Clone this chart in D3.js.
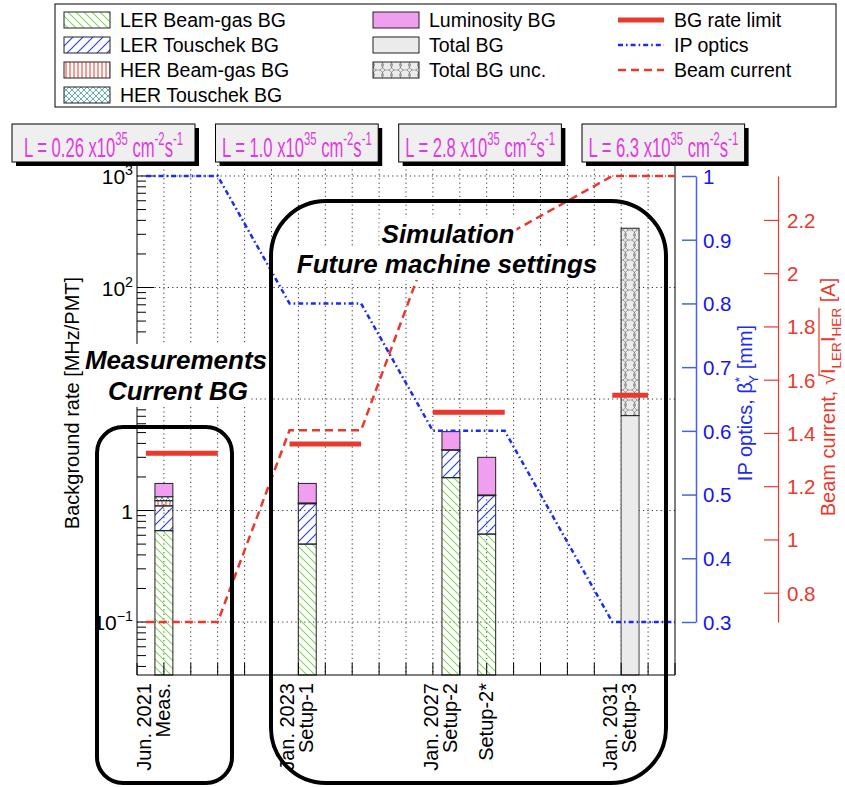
<!DOCTYPE html>
<html>
<head>
<meta charset="utf-8">
<script src="https://cdn.jsdelivr.net/npm/d3@7/dist/d3.min.js"></script>
<style>
html,body{margin:0;padding:0;background:#fff;}
svg{display:block;}
text{font-family:"Liberation Sans",Arial,Helvetica,sans-serif;}
</style>
</head>
<body>
<svg id="chart" width="845" height="787"></svg>
<script>
// ================= DATA =================
const categories   = ["Meas.", "Setup-1", "Setup-2", "Setup-2*", "Setup-3"];
const dates        = ["Jun. 2021", "Jan. 2023", "Jan. 2027", "", "Jan. 2031"];
const barPos       = [1.0, 6.33, 11.67, 13.0, 18.33];          // bin-axis position of each bar
const lerBeamGas   = [0.66, 0.50, 1.97, 0.615, 0];
const lerTouschek  = [0.44, 0.65, 1.52, 0.745, 0];
const herBeamGas   = [0.125, 0.01, 0.01, 0.01, 0];
const herTouschek  = [0.105, 0.01, 0.01, 0.01, 0];
const luminosityBG = [0.42, 0.58, 1.59, 1.62, 0];
const totalBG      = [0, 0, 0, 0, 7.1];
const totalBGUnc   = [0, 0, 0, 0, 340];                         // upper edge of uncertainty band

const phaseStart   = [0.33, 5.67, 11.0, 17.67];
const phaseEnd     = [3.0, 8.33, 13.67, 20.0];
const bgRateLimit  = [3.26, 3.95, 7.6, 10.8];
const limitEnd     = [3.0, 8.33, 13.67, 19.0];
const ipOptics     = [1.0, 0.8, 0.6, 0.3];                      // beta*_y [mm]
const beamCurrent  = [0.69, 1.41, 2.14, 2.365];                 // sqrt(I_LER I_HER) [A]
const luminosity   = ["0.26", "1.0", "2.8", "6.3"];

const yMajorTicks  = [0.1, 1, 10, 100, 1000];
const yMajorBase   = ["10", "1", "", "10", "10"];               // the 10^1 label is hidden in the original
const yMajorExp    = ["\u22121", "", "", "2", "3"];
const ipTicks      = [0.3, 0.4, 0.5, 0.6, 0.7, 0.8, 0.9, 1.0];
const currentTicks = [0.8, 1.0, 1.2, 1.4, 1.6, 1.8, 2.0, 2.2];

const legendLabels = ["LER Beam-gas BG", "LER Touschek BG", "HER Beam-gas BG", "HER Touschek BG",
                      "Luminosity BG", "Total BG", "Total BG unc.",
                      "BG rate limit", "IP optics", "Beam current"];

// ================= STYLE / LAYOUT =================
const RED = "#e8392c", BLUE = "#1a2cf0", MAG = "#e03be0", PINK = "#f09ef0", GREY = "#ebebeb";
const svg = d3.select("#chart");
const F = {l: 137, r: 675, t: 165, b: 675};

const x = d3.scaleLinear().domain([0, 20]).range([F.l, F.r]);
const y = d3.scaleLog().domain([0.0335, 1255]).range([F.b, F.t]);
const yIP = d3.scaleLinear().domain([0.3, 1.0]).range([622, 176]);
const yCur = d3.scaleLinear().domain([0.69, 2.365]).range([622, 176]);

// ---------- patterns ----------
const defs = svg.append("defs");
function pattern(id, w, h, build) {
  const p = defs.append("pattern").attr("id", id).attr("patternUnits", "userSpaceOnUse")
    .attr("width", w).attr("height", h);
  build(p);
}
pattern("p-lerbg", 8, 8, p => p.append("path").attr("d", "M0,0L8,8M-2,6L2,10M6,-2L10,2")
  .attr("stroke", "#7ed957").attr("stroke-width", 1.1).attr("fill", "none"));
pattern("p-lertous", 10, 10, p => p.append("path").attr("d", "M0,10L10,0M-2,2L2,-2M8,12L12,8")
  .attr("stroke", "#2b45e0").attr("stroke-width", 1.2).attr("fill", "none"));
pattern("p-herbg", 4, 4, p => p.append("path").attr("d", "M2,0V4")
  .attr("stroke", RED).attr("stroke-width", 1).attr("fill", "none"));
pattern("p-hertous", 6, 6, p => p.append("path").attr("d", "M0,0L6,6M6,0L0,6")
  .attr("stroke", "#3a9a9a").attr("stroke-width", 0.8).attr("fill", "none"));
pattern("p-unc", 9, 10, p => {
  p.append("rect").attr("width", 9).attr("height", 10).attr("fill", GREY);
  [[0, 5], [9, 5]].forEach(c =>
    p.append("circle").attr("cx", c[0]).attr("cy", c[1]).attr("r", 5.2)
      .attr("fill", "none").attr("stroke", "#666").attr("stroke-width", 0.6));
  p.append("path").attr("d", "M3,5H6").attr("stroke", "#666").attr("stroke-width", 0.6);
});
const compFill = ["url(#p-lerbg)", "url(#p-lertous)", "url(#p-herbg)", "url(#p-hertous)", PINK];

// rich text helper (sup / sub)
function rich(textSel, parts, size) {
  let shift = 0;
  parts.forEach(p => {
    const s = p.sup ? -0.42 * size : p.sub ? 0.28 * size : 0;
    const ts = textSel.append("tspan").text(p.t).attr("dy", s - shift);
    if (p.sup || p.sub) ts.attr("font-size", size * 0.68);
    if (p.dx) ts.attr("dx", p.dx);
    shift = s;
  });
  return textSel;
}

// ---------- grid ----------
const grid = svg.append("g").attr("stroke", "#333").attr("stroke-width", 1).attr("stroke-dasharray", "1.2,3.2");
grid.selectAll("line.v").data(d3.range(1, 20)).join("line")
  .attr("x1", d => x(d)).attr("x2", d => x(d)).attr("y1", F.t).attr("y2", F.b);
grid.selectAll("line.h").data(yMajorTicks).join("line")
  .attr("x1", F.l).attr("x2", F.r).attr("y1", d => y(d)).attr("y2", d => y(d));

// ---------- bars ----------
const bw = 1 / 3;
const barG = svg.append("g");
categories.forEach((c, i) => {
  const comps = [lerBeamGas[i], lerTouschek[i], herBeamGas[i], herTouschek[i], luminosityBG[i]];
  const x0 = x(barPos[i] - bw), x1 = x(barPos[i] + bw);
  let cum = 0;
  comps.forEach((v, k) => {
    if (!v) return;
    const lo = cum === 0 ? F.b : y(cum);
    cum += v;
    barG.append("rect").attr("x", x0).attr("width", x1 - x0)
      .attr("y", y(cum)).attr("height", lo - y(cum))
      .attr("fill", compFill[k]).attr("stroke", "#222").attr("stroke-width", 1);
  });
  if (totalBG[i]) {
    barG.append("rect").attr("x", x0).attr("width", x1 - x0)
      .attr("y", y(totalBG[i])).attr("height", F.b - y(totalBG[i]))
      .attr("fill", GREY).attr("stroke", "#444").attr("stroke-width", 1);
    barG.append("rect").attr("x", x0).attr("width", x1 - x0)
      .attr("y", y(totalBGUnc[i])).attr("height", y(totalBG[i]) - y(totalBGUnc[i]))
      .attr("fill", "url(#p-unc)").attr("stroke", "#222").attr("stroke-width", 1);
  }
});

// ---------- frame & left/bottom axes ----------
const ax = svg.append("g").attr("stroke", "#000").attr("stroke-width", 1);
ax.append("line").attr("x1", F.l).attr("x2", F.l).attr("y1", F.t).attr("y2", F.b);
ax.append("line").attr("x1", F.r).attr("x2", F.r).attr("y1", F.t).attr("y2", F.b);
ax.append("line").attr("x1", F.l).attr("x2", F.r).attr("y1", F.b).attr("y2", F.b);
ax.selectAll("line.bt").data(d3.range(0, 21)).join("line")
  .attr("x1", d => x(d)).attr("x2", d => x(d)).attr("y1", F.b).attr("y2", F.b - 12);
const minors = [];
for (let e = -2; e <= 3; e++) for (let k = 2; k <= 9; k++) {
  const v = k * Math.pow(10, e);
  if (v > y.domain()[0] && v < y.domain()[1]) minors.push(v);
}
ax.selectAll("line.mn").data(minors).join("line")
  .attr("x1", F.l).attr("x2", F.l + 9).attr("y1", d => y(d)).attr("y2", d => y(d));
ax.selectAll("line.mj").data(yMajorTicks).join("line")
  .attr("x1", F.l).attr("x2", F.l + 17).attr("y1", d => y(d)).attr("y2", d => y(d));

yMajorTicks.forEach((v, i) => {
  if (!yMajorBase[i]) return;
  const t = svg.append("text").attr("x", 133).attr("y", y(v) + 8).attr("text-anchor", "end")
    .attr("font-size", 21).attr("fill", "#000");
  const parts = [{t: yMajorBase[i]}];
  if (yMajorExp[i]) parts.push({t: yMajorExp[i], sup: true});
  rich(t, parts, 21);
});

// bottom category labels (rotated)
categories.forEach((c, i) => {
  const bx = x(barPos[i]) + 6;
  svg.append("text").attr("transform", `translate(${bx},683) rotate(-90)`)
    .attr("text-anchor", "end").attr("font-size", 20).text(c);
  if (dates[i]) svg.append("text").attr("transform", `translate(${bx - 19},683) rotate(-90)`)
    .attr("text-anchor", "end").attr("font-size", 20).text(dates[i]);
});

// ---------- right axes ----------
const ipAxis = svg.append("g").attr("transform", "translate(696,0)")
  .call(d3.axisLeft(yIP).tickValues(ipTicks).tickSize(14).tickSizeOuter(0).tickPadding(0)
    .tickFormat(d => String(+d.toFixed(1))));
ipAxis.select(".domain").attr("stroke", "#4466dd").attr("stroke-width", 1.5);
ipAxis.selectAll(".tick line").attr("stroke", "#4466dd").attr("stroke-width", 1.5);
ipAxis.selectAll(".tick text").attr("x", 7).attr("text-anchor", "start").attr("dy", "0.36em")
  .attr("font-size", 20.5).attr("fill", "#1515f0");
ipAxis.attr("font-family", null);

const curAxis = svg.append("g").attr("transform", "translate(778,0)")
  .call(d3.axisLeft(yCur).tickValues(currentTicks).tickSize(14).tickSizeOuter(0).tickPadding(0)
    .tickFormat(d => String(+d.toFixed(1))));
curAxis.select(".domain").attr("stroke", RED).attr("stroke-width", 1.2);
curAxis.selectAll(".tick line").attr("stroke", RED).attr("stroke-width", 1.2);
curAxis.selectAll(".tick text").attr("x", 9).attr("text-anchor", "start").attr("dy", "0.36em")
  .attr("font-size", 20.5).attr("fill", RED);
curAxis.attr("font-family", null);

// ---------- lines ----------
function stepPoints(vals) {
  const pts = [];
  vals.forEach((v, i) => { pts.push([phaseStart[i], v]); pts.push([phaseEnd[i], v]); });
  return pts;
}
svg.append("path").datum(stepPoints(ipOptics))
  .attr("d", d3.line().x(d => x(d[0])).y(d => yIP(d[1])))
  .attr("fill", "none").attr("stroke", BLUE).attr("stroke-width", 2.5)
  .attr("stroke-dasharray", "5,3,1.6,3");
svg.append("path").datum(stepPoints(beamCurrent))
  .attr("d", d3.line().x(d => x(d[0])).y(d => yCur(d[1])))
  .attr("fill", "none").attr("stroke", RED).attr("stroke-width", 2.5)
  .attr("stroke-dasharray", "8,5");
svg.append("g").selectAll("line").data(bgRateLimit).join("line")
  .attr("x1", (d, i) => x(phaseStart[i])).attr("x2", (d, i) => x(limitEnd[i]))
  .attr("y1", d => y(d)).attr("y2", d => y(d))
  .attr("stroke", RED).attr("stroke-width", 5);

// ---------- annotation texts with white boxes ----------
const notes = [
  {t: "Measurements", x: 176, y: 369},
  {t: "Current BG", x: 178, y: 400},
  {t: "Simulation", x: 448, y: 243},
  {t: "Future machine settings", x: 447, y: 273}
];
notes.forEach(n => {
  const g = svg.append("g");
  const r = g.append("rect").attr("fill", "#fff");
  const t = g.append("text").attr("x", n.x).attr("y", n.y).attr("text-anchor", "middle")
    .attr("font-size", 26).attr("font-weight", "bold").attr("font-style", "italic").text(n.t);
  const b = t.node().getBBox();
  r.attr("x", b.x - 2).attr("y", b.y - 1).attr("width", b.width + 4).attr("height", b.height + 2);
});

// ---------- rounded boxes ----------
svg.append("rect").attr("x", 97).attr("y", 427).attr("width", 135).attr("height", 356).attr("rx", 26)
  .attr("fill", "none").attr("stroke", "#000").attr("stroke-width", 4);
svg.append("rect").attr("x", 271).attr("y", 201).attr("width", 395).attr("height", 582).attr("rx", 55)
  .attr("fill", "none").attr("stroke", "#000").attr("stroke-width", 4);

// ---------- luminosity panels ----------
const lumBoxes = [[12, 195], [215.5, 378.2], [398.7, 561.4], [582, 744.6]];
let lumScale = null;
luminosity.forEach((L, i) => {
  const [bx0, bx1] = lumBoxes[i];
  svg.append("rect").attr("x", bx0 + 4).attr("y", 128).attr("width", bx1 - bx0).attr("height", 38).attr("fill", "#000");
  svg.append("rect").attr("x", bx0).attr("y", 124).attr("width", bx1 - bx0).attr("height", 38)
    .attr("fill", "#efefef").attr("stroke", "#000").attr("stroke-width", 1);
  const t = svg.append("text").attr("font-size", 28).attr("fill", MAG);
  rich(t, [{t: "L = " + L + " x10"}, {t: "35", sup: true}, {t: " cm"}, {t: "-2", sup: true},
           {t: "s"}, {t: "-1", sup: true}], 28);
  const w = t.node().getComputedTextLength();
  if (lumScale === null) lumScale = 159 / w;
  const cx = (bx0 + bx1) / 2;
  t.attr("transform", `translate(${cx - w * lumScale / 2},157) scale(${lumScale},1)`);
});

// ---------- legend ----------
const lg = svg.append("g");
lg.append("rect").attr("x", 55).attr("y", 4).attr("width", 781).attr("height", 103)
  .attr("fill", "#fff").attr("stroke", "#000").attr("stroke-width", 1);
const colX = [64, 373, 618], rowY = [20, 45, 70, 95];
const legendPos = [[0,0],[0,1],[0,2],[0,3],[1,0],[1,1],[1,2],[2,0],[2,1],[2,2]];
const legendSw = [
  {fill: "url(#p-lerbg)"}, {fill: "url(#p-lertous)"}, {fill: "url(#p-herbg)"}, {fill: "url(#p-hertous)"},
  {fill: PINK}, {fill: GREY}, {fill: "url(#p-unc)"},
  {line: RED, w: 5}, {line: BLUE, w: 2.5, dash: "5,3,1.6,3"}, {line: RED, w: 2.5, dash: "8,5"}
];
legendLabels.forEach((lab, i) => {
  const [c, r] = legendPos[i];
  const sx = colX[c], cy = rowY[r], sw = legendSw[i];
  if (sw.fill) {
    lg.append("rect").attr("x", sx).attr("y", cy - 8).attr("width", 46).attr("height", 16)
      .attr("fill", sw.fill).attr("stroke", "#222").attr("stroke-width", 1);
  } else {
    lg.append("line").attr("x1", sx).attr("x2", sx + 46).attr("y1", cy).attr("y2", cy)
      .attr("stroke", sw.line).attr("stroke-width", sw.w).attr("stroke-dasharray", sw.dash || null);
  }
  lg.append("text").attr("x", sx + 56).attr("y", cy + 7).attr("font-size", 19.5).text(lab);
});

// ---------- axis titles ----------
svg.append("text").attr("transform", "translate(79,403) rotate(-90)").attr("text-anchor", "middle")
  .attr("font-size", 20).text("Background rate [MHz/PMT]");

const ipT = svg.append("text").attr("transform", "translate(752,403) rotate(-90)")
  .attr("text-anchor", "middle").attr("font-size", 20).attr("fill", BLUE);
rich(ipT, [{t: "IP optics, \u03B2"}, {t: "*", sup: true}, {t: "Y", sub: true, dx: -7}, {t: " [mm]"}], 20);

const curG = svg.append("g").attr("transform", "translate(835,397) rotate(-90)");
const curT = curG.append("text").attr("text-anchor", "middle").attr("font-size", 20).attr("fill", RED);
rich(curT, [{t: "Beam current, \u221A"}, {t: "I"}, {t: "LER", sub: true}, {t: "I"}, {t: "HER", sub: true}, {t: " [A]"}], 20);
{
  const full = "Beam current, \u221A";
  const n = curT.node();
  const i0 = full.length;                 // index of first "I"
  const i1 = i0 + 1 + 3 + 1 + 3 - 1;      // last char of "HER"
  const xs = n.getStartPositionOfChar(i0 - 1).x + 9;
  const xe = n.getEndPositionOfChar(i1).x;
  curG.append("line").attr("x1", xs).attr("x2", xe).attr("y1", -16).attr("y2", -16)
    .attr("stroke", RED).attr("stroke-width", 1.2);
}
</script>
</body>
</html>
